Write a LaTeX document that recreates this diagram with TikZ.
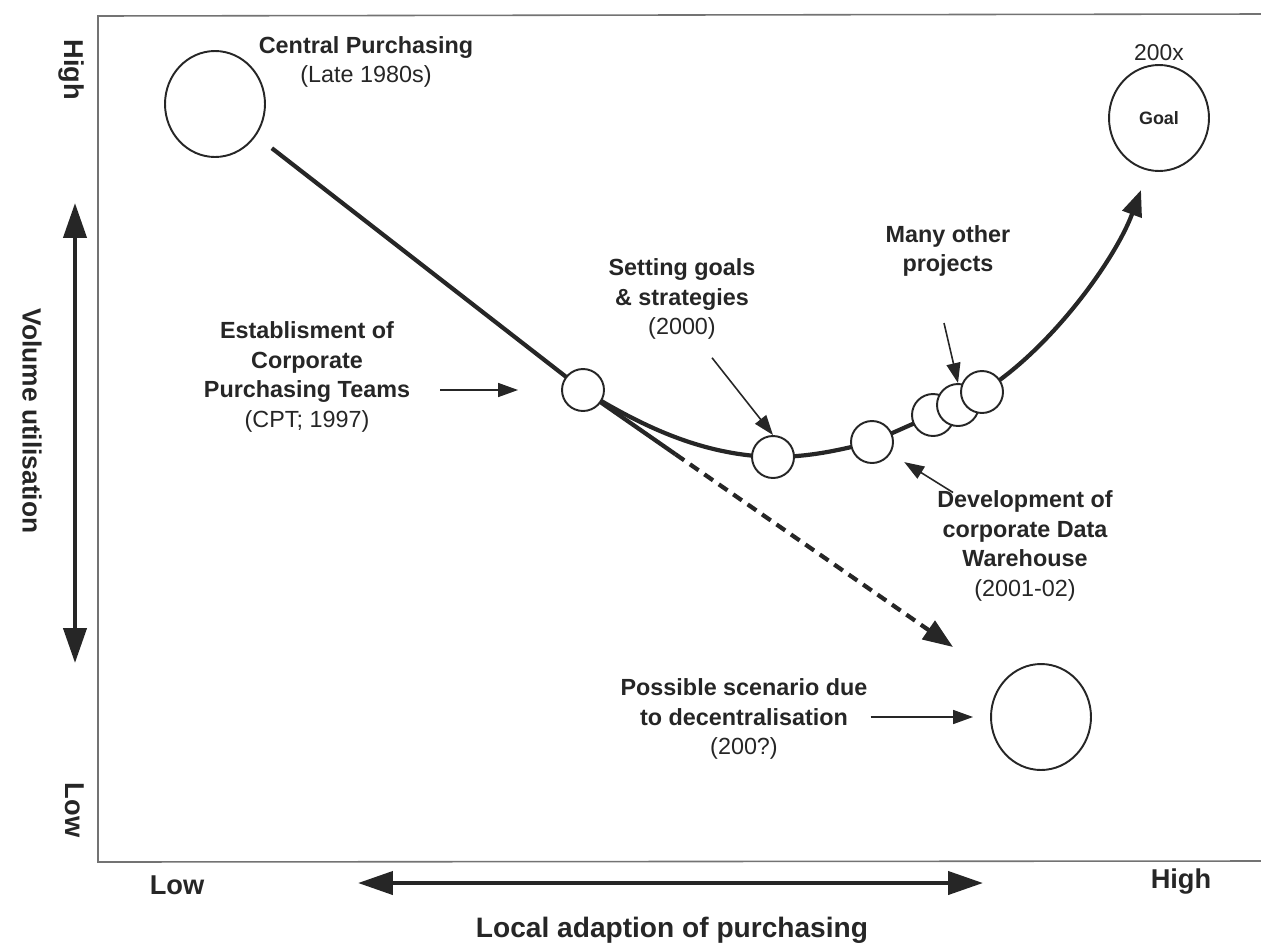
\documentclass[tikz,border=0pt]{standalone}
\usepackage{fontspec}
\setmainfont{Liberation Sans}
\usetikzlibrary{arrows.meta,shapes.geometric,positioning,calc,backgrounds}
\colorlet{ink}{black!85}

\begin{document}
\begin{tikzpicture}[x=0.02cm, y=-0.02cm,
    bigdot/.style={ellipse, draw=ink, text=ink, line width=1.1pt, fill=white, minimum width=2.0cm, minimum height=2.12cm, inner sep=0pt},
    dot/.style={circle, draw=ink, line width=1.1pt, fill=white, minimum size=0.84cm, inner sep=0pt},
    lbl/.style={align=center, inner sep=0pt, text=ink, font=\fontsize{13.3}{16.8}\selectfont\bfseries},
    axislbl/.style={inner sep=0pt, text=ink, font=\fontsize{15.5}{18}\selectfont\bfseries},
    pointer/.style={draw=ink, line width=0.9pt, -{Triangle[length=0.4cm,width=0.28cm]}},
    track/.style={draw=ink, line width=2.4pt},
    axis/.style={draw=ink, line width=2.4pt, {Triangle[length=0.7cm,width=0.46cm]}-{Triangle[length=0.7cm,width=0.46cm]}}]
    \useasboundingbox (0,0) rectangle (1261,947);
    % frame and axes
    \draw[black!55, line width=0.9pt] (1261,14) -- (98,16) -- (98,862) -- (1261,861);
    \draw[axis] (75,203) -- (75,663);
    \draw[axis] (358,883) -- (983,883);
    \node[axislbl, rotate=-90] (yhigh) at (71,70) {High};
    \node[axislbl, rotate=-90] (ylow) at (75,810) {Low};
    \node[axislbl, rotate=-90, font=\fontsize{15}{18}\selectfont\bfseries] (ytitle) at (32,421) {Volume utilisation};
    \node[axislbl] (xlow) at (177,885) {Low};
    \node[axislbl] (xhigh) at (1181,882) {High};
    \node[axislbl, font=\fontsize{16}{19}\selectfont\bfseries] (xtitle) at (672,930) {Local adaption of purchasing};

    % stages
    \node[bigdot] (central) at (215,104) {};
    \node[bigdot] (goal) at (1159,118) {\fontsize{10.2}{12}\selectfont\bfseries Goal};
    \node[bigdot] (decent) at (1041,717) {};
    \foreach \n/\x/\y in {cpt/583/390, setg/773/457, dwc/872/442, cla/933/415, clb/958/405, clc/982/392}
        \node[dot] (\n) at (\x,\y) {};
    \coordinate (goaltip) at (1141,190);
    \coordinate (scentip) at (953,647);

    \begin{scope}[on background layer]
        \draw[track, shorten <=0.4cm] (central) -- (cpt.center);
        \draw[track] (cpt.center) -- ($(cpt.center)!0.25!(scentip)$);
        \draw[track, dash pattern=on 6pt off 4pt, -{Triangle[length=0.6cm,width=0.44cm]}] ($(cpt.center)!0.25!(scentip)$) -- (scentip);
        \draw[track, -{Triangle[length=0.52cm,width=0.4cm]}] (cpt.center) .. controls +(57,35) and +(-73,-2) .. (setg.center)
            .. controls +(37,0) and +(-32,8) .. (dwc.center) -- (cla.center) -- (clb.center) -- (clc.center)
            .. controls +(68,-42) and +(-26,70) .. (goaltip);
    \end{scope}

    % labels
    \node[lbl] (centlbl) at (366,62) {Central Purchasing\\\mdseries(Late 1980s)};
    \node[lbl, font=\fontsize{13}{16}\selectfont, above=0.06cm of goal] (goalyr) {200x};
    \node[lbl] (cptlbl) at (307,377) {Establisment of\\Corporate\\Purchasing Teams\\\mdseries(CPT; 1997)};
    \node[lbl] (setlbl) at (682,299) {Setting goals\\\& strategies\\\mdseries(2000)};
    \node[lbl] (manylbl) at (948,251) {Many other\\projects};
    \node[lbl] (dwlbl) at (1025,546) {Development of\\corporate Data\\Warehouse\\\mdseries(2001-02)};
    \node[lbl] (poslbl) at (744,719) {Possible scenario due\\to decentralisation\\\mdseries(200?)};

    \draw[pointer, shorten <=0.6cm, shorten >=0.86cm] (cptlbl.east |- cpt.west) -- (cpt.west);
    \draw[pointer] ($(setlbl.south)+(30,18)$) -- (setg.north);
    \draw[pointer] ($(manylbl.south)+(-4,46)$) -- (clb.north);
    \draw[pointer, shorten >=0.32cm] ($(dwlbl.north west)+(16,2)$) -- (dwc);
    \draw[pointer, shorten <=0.06cm, shorten >=0.34cm] (poslbl.east |- decent.west) -- (decent.west);
\end{tikzpicture}
\end{document}
